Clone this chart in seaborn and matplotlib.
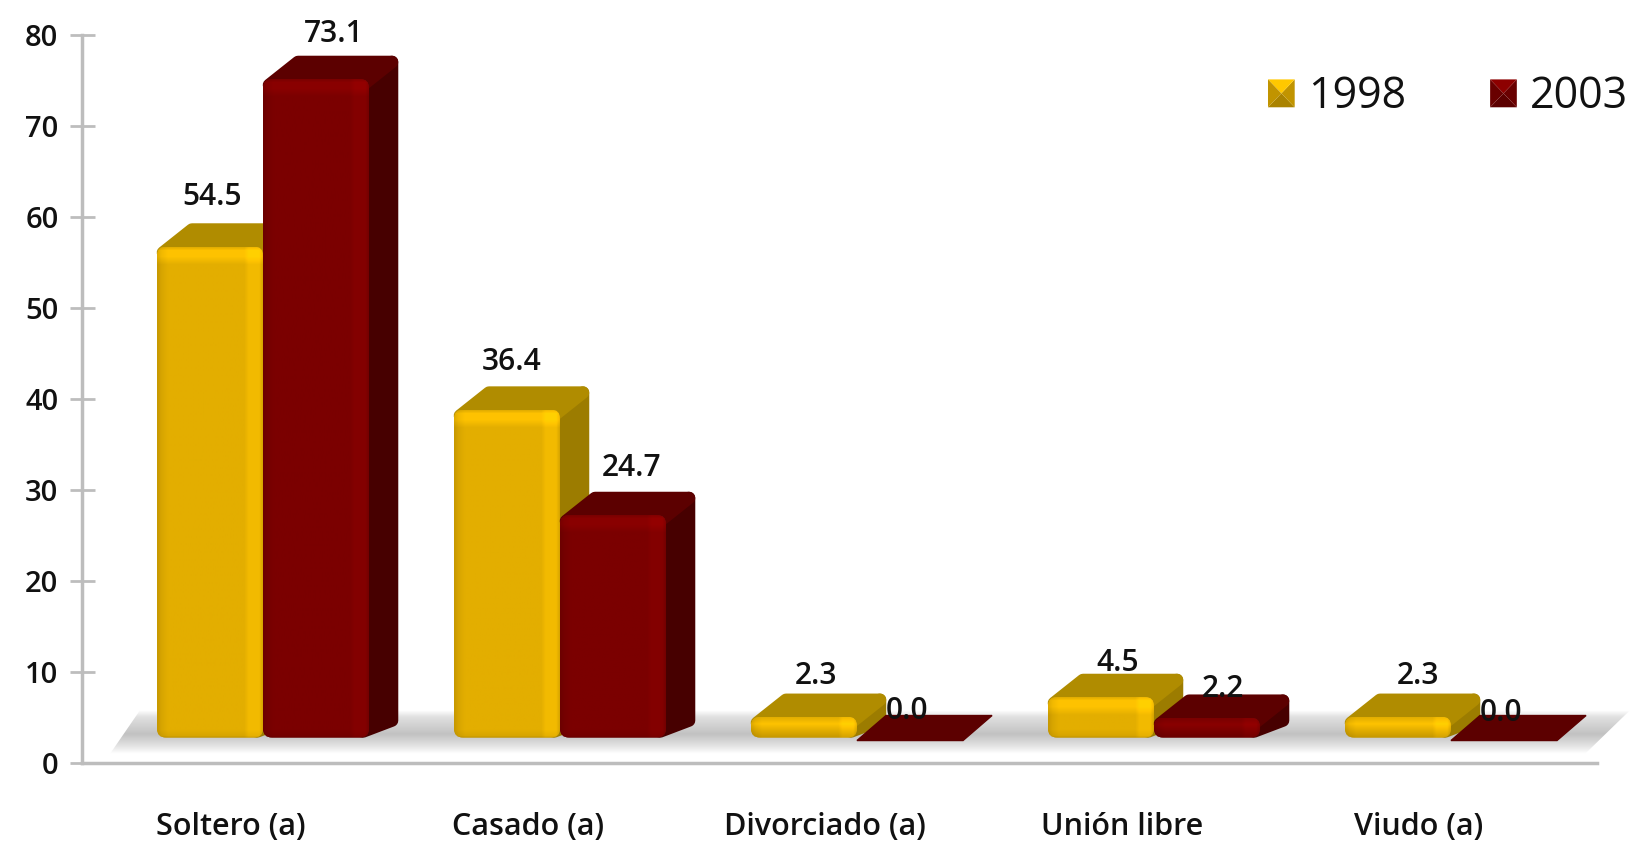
import numpy as np
import pandas as pd
import matplotlib
matplotlib.use("Agg")
import matplotlib.pyplot as plt
import seaborn as sns
from matplotlib.patches import FancyBboxPatch, Polygon, Patch
from matplotlib.legend_handler import HandlerBase

# Datos
categorias = ["Soltero (a)", "Casado (a)", "Divorciado (a)", "Unión libre", "Viudo (a)"]
valores_1998 = [54.5, 36.4, 2.3, 4.5, 2.3]
valores_2003 = [73.1, 24.7, 0.0, 2.2, 0.0]
anios = ["1998", "2003"]
ticks_y = [0, 10, 20, 30, 40, 50, 60, 70, 80]

# Colores: frente, arriba, lado
colores = {"1998": ("#E3AE00", "#B08C00", "#9C7C00"),
           "2003": ("#7B0000", "#5C0000", "#470000")}

# Desplazamiento (px) de cada etiqueta respecto a su barra: primero 1998, luego 2003
offset_x = [2, 5, 12, 17, 20, 18, 19, -3, 16, -3]
offset_y = [27, 25, 18, 11, 18, 22, 24, 4, 6, 2]

W, H = 1631, 843
IZQ, DER, ARR, ABA = 82, 1597, 35, 763
PX_CAT = 297.0      # px entre categorias
PX_Y = (ABA - ARR) / 80
DX = 1 / PX_CAT     # unidades x por px
DY = 1 / PX_Y       # unidades y por px
BASE = 2.8          # el piso levanta las barras
PERSP = 0.99        # la perspectiva acorta un poco el frente
PROF_X, PROF_Y = 29 * DX, 23 * DY
PROF_Y0 = 25 * DY   # barras en cero
RADIO = 9 * DX

sns.set_theme(style="white")
plt.rcParams["font.family"] = ["Open Sans", "DejaVu Sans"]

df = pd.DataFrame({
    "categoria": categorias * 2,
    "anio": [anios[0]] * 5 + [anios[1]] * 5,
    "valor": valores_1998 + valores_2003,
})
df["alto"] = df["valor"] * PERSP

fig = plt.figure(figsize=(W / 100, H / 100), dpi=100, facecolor="white")
ax = fig.add_axes([IZQ / W, 1 - ABA / H, (DER - IZQ) / W, (ABA - ARR) / H])

sns.barplot(data=df, x="categoria", y="alto", hue="anio", order=categorias,
            hue_order=anios, palette=[colores[a][0] for a in anios],
            width=0.714, gap=0, bottom=BASE, errorbar=None, legend=False,
            linewidth=0, ax=ax, zorder=3)
barras = list(ax.patches)

xlim = ((IZQ - 263) / PX_CAT, (DER - 263) / PX_CAT)

# Piso gris con degradado
x_piso = [xlim[0] + 28 * DX, xlim[0] + 58 * DX, xlim[1] + 33 * DX, xlim[1] - 12 * DX]
y_piso = [1.0, 5.8, 5.8, 1.0]
grad = np.interp(np.linspace(0, 1, 60), [0, 0.15, 0.55, 0.8, 1], [1.0, 0.88, 0.76, 0.88, 1.0])
grad = np.dstack([grad[:, None]] * 3)
piso = ax.imshow(grad, extent=(x_piso[0], x_piso[2], y_piso[0], y_piso[1]),
                 aspect="auto", zorder=1, interpolation="bilinear")
forma = Polygon(list(zip(x_piso, y_piso)), closed=True, transform=ax.transData, fc="none", ec="none")
ax.add_patch(forma)
forma.set_clip_on(False)
piso.set_clip_box(fig.bbox)
piso.set_clip_path(forma)


def imagen_frente(color, ancho, alto):
    # sombreado del frente: franja clara a la derecha y banda clara arriba
    rgb = np.array(matplotlib.colors.to_rgb(color))
    xs = np.arange(ancho) / max(ancho - 1, 1)
    ys = np.arange(alto)
    perfil_x = np.interp(xs, [0, 0.04, 0.1, 0.45, 0.5, 0.82, 0.86, 0.96, 1],
                         [0.88, 0.95, 1, 1, 1.0, 1.0, 1.07, 1.07, 0.92])
    if alto > 30:
        perfil_y = np.interp(ys, [0, 3, 9, 17, alto - 9, alto - 3, alto],
                             [1.0, 1.12, 1.12, 1.0, 1.0, 0.95, 0.82])
    else:
        perfil_y = np.interp(ys, [0, alto * 0.3, alto * 0.6, alto], [1.0, 1.12, 1.0, 0.85])
    img = rgb[None, None, :] * perfil_x[None, :, None] * perfil_y[:, None, None]
    return np.clip(img, 0, 1)


# Cara superior, lateral y sombreado de cada barra de seaborn
etiquetas = list(df["valor"])
for i, barra in enumerate(barras):
    anio = anios[i // 5]
    frente, arriba, lado = colores[anio]
    x0, w = barra.get_x(), barra.get_width()
    y0, h = barra.get_y(), barra.get_height()
    x1, y1 = x0 + w, y0 + h
    z = 3 + i // 5 * 2
    barra.set_zorder(z + 0.5)
    if h > 0:
        redondo = FancyBboxPatch((x0, y0), w, h, boxstyle=f"round,pad=0,rounding_size={RADIO}",
                                 mutation_aspect=DY / DX, transform=ax.transData,
                                 fc="none", ec="none")
        ax.add_patch(redondo)
        barra.set_clip_path(redondo)
        img = ax.imshow(imagen_frente(frente, int(w / DX), max(int(h / DY), 4)),
                        extent=(x0, x1, y0, y1), aspect="auto", zorder=z + 0.6,
                        interpolation="bilinear")
        img.set_clip_path(redondo)
        m = 6 * DX
        my = 6 * DY
        ax.add_patch(Polygon([(x1 - m, y0 + my), (x1 + PROF_X - m, y0 + PROF_Y - my),
                              (x1 + PROF_X - m, y1 + PROF_Y - my), (x1 - m, y1)],
                             fc=lado, ec=lado, lw=9, joinstyle="round", zorder=z))
        ax.add_patch(Polygon([(x0 + m, y1 - my), (x0 + PROF_X + m, y1 + PROF_Y - my),
                              (x1 + PROF_X - m, y1 + PROF_Y - my), (x1 - m, y1 - my)],
                             fc=arriba, ec=arriba, lw=9, joinstyle="round", zorder=z + 0.2))
    else:
        baja = 3 * DY
        ax.add_patch(Polygon([(x0, y0 - baja), (x0 + PROF_X, y0 + PROF_Y0 - baja),
                              (x1 + PROF_X, y0 + PROF_Y0 - baja), (x1, y0 - baja)],
                             fc=arriba, ec=arriba, lw=1, zorder=z))
    ax.annotate(f"{etiquetas[i]:.1f}", xy=((x0 + x1) / 2, y1 + PROF_Y),
                xytext=(offset_x[i], offset_y[i]), textcoords="offset pixels",
                ha="center", va="center", fontsize=21.5, fontweight=600,
                color="#111111", zorder=10, annotation_clip=False)

ax.set_xlim(xlim)
ax.set_ylim(0, 80)
ax.set_yticks(ticks_y)
ax.set_xticks(np.arange(5) - 32 * DX)
ax.set_xticklabels(categorias)
ax.set_xlabel("")
ax.set_ylabel("")
ax.tick_params(axis="y", direction="inout", length=18, width=2, color="#BDBDBD",
               labelsize=21, pad=8, labelcolor="#111111", left=True)
ax.tick_params(axis="x", length=0, labelsize=22, pad=35, labelcolor="#111111")
for t in ax.get_xticklabels() + ax.get_yticklabels():
    t.set_fontweight(600)

sns.despine(ax=ax)
for lado_eje in ["left", "bottom"]:
    ax.spines[lado_eje].set_color("#BDBDBD")
    ax.spines[lado_eje].set_linewidth(2.5)
ax.patch.set_alpha(0)


class Biselado(HandlerBase):
    # cuadrito con biselado de la leyenda
    def create_artists(self, legend, orig, xd, yd, width, height, fontsize, trans):
        c = np.array(matplotlib.colors.to_rgb(orig.get_facecolor()))
        x, y, a, b = -xd, -yd, width, height
        cx, cy = x + a / 2, y + b / 2
        esq = [(x, y), (x + a, y), (x + a, y + b), (x, y + b)]
        luz = [0.75, 0.85, 1.15, 0.85]
        caras = []
        for k in range(4):
            caras.append(Polygon([esq[k], esq[(k + 1) % 4], (cx, cy)], closed=True,
                                 fc=np.clip(c * luz[k], 0, 1), ec="none", transform=trans))
        return caras


handles = [Patch(facecolor=colores[a][0], label=a) for a in anios]
fig.legend(handles=handles, loc="upper left", bbox_to_anchor=(1268 / W, 1 - 75 / H),
           ncol=2, frameon=False, fontsize=31, labelcolor="#111111",
           handler_map={Patch: Biselado()}, handlelength=0.62, handleheight=0.62,
           handletextpad=0.31, columnspacing=1.95, borderpad=0, borderaxespad=0)

fig.savefig("out.png", dpi=100, facecolor="white")
plt.close(fig)
